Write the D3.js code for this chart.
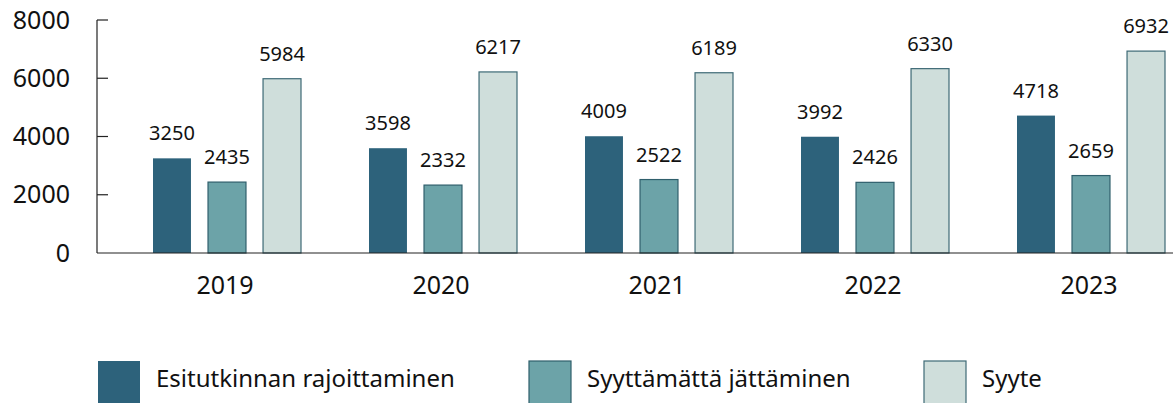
<!DOCTYPE html>
<html>
<head>
  <meta charset="utf-8">
  <script src="https://d3js.org/d3.v7.min.js"></script>
  <style>
    body { margin: 0; background: #fff; }
    text { font-family: "Noto Sans", sans-serif; fill: #111; }
  </style>
</head>
<body>
<svg id="chart"></svg>
<script>
// data
var years = ["2019", "2020", "2021", "2022", "2023"];
var seriesNames = ["Esitutkinnan rajoittaminen", "Syyttämättä jättäminen", "Syyte"];
var rajoittaminen = [3250, 3598, 4009, 3992, 4718];
var jattaminen = [2435, 2332, 2522, 2426, 2659];
var syyte = [5984, 6217, 6189, 6330, 6932];
var yTicks = [0, 2000, 4000, 6000, 8000];

var colors = ["#2d627b", "#6ca3a8", "#cfdedb"];
var strokes = ["#2d627b", "#2f5f6c", "#3e6a76"];

var w = 1173, h = 403;
var axisX = 97, y0 = 253, yTop = 20;

var svg = d3.select("#chart").attr("width", w).attr("height", h);

var values = [rajoittaminen, jattaminen, syyte];
var data = years.map(function (yr, i) {
  return { year: yr, vals: values.map(function (s) { return s[i]; }) };
});

var x = d3.scaleBand().domain(years).range([119, 1199]).padding(0);
var inner = d3.scaleBand().domain([0, 1, 2]).range([0, 148]).paddingInner(0.31).paddingOuter(0);
var y = d3.scaleLinear().domain([0, 8000]).range([y0, yTop]);

// y axis
var yAxis = d3.axisLeft(y).tickValues(yTicks).tickSize(0).tickPadding(27).tickFormat(d3.format("d"));
var gy = svg.append("g").attr("transform", "translate(" + axisX + ",0)").call(yAxis);
gy.select(".domain").remove();
gy.selectAll("text").style("font-size", "25px").attr("fill", "#111");

svg.append("line")
  .attr("x1", axisX).attr("x2", axisX)
  .attr("y1", yTop).attr("y2", y0)
  .attr("stroke", "#222").attr("stroke-width", 1.2);
svg.selectAll("line.tk").data(yTicks.slice(1)).enter().append("line")
  .attr("class", "tk")
  .attr("x1", axisX).attr("x2", axisX + 11)
  .attr("y1", function (d) { return y(d); }).attr("y2", function (d) { return y(d); })
  .attr("stroke", "#222").attr("stroke-width", 1.2);

// bars
var groups = svg.selectAll("g.year").data(data).enter().append("g")
  .attr("class", "year")
  .attr("transform", function (d) { return "translate(" + (x(d.year) + (x.bandwidth() - 148) / 2) + ",0)"; });

groups.selectAll("rect").data(function (d) { return d.vals; }).enter().append("rect")
  .attr("x", function (d, i) { return inner(i); })
  .attr("y", function (d) { return y(d); })
  .attr("width", inner.bandwidth())
  .attr("height", function (d) { return y0 - y(d); })
  .attr("fill", function (d, i) { return colors[i]; })
  .attr("stroke", function (d, i) { return i === 0 ? "none" : strokes[i]; })
  .attr("stroke-width", 1.2);

groups.selectAll("text.val").data(function (d) { return d.vals; }).enter().append("text")
  .attr("class", "val")
  .attr("x", function (d, i) { return inner(i) + inner.bandwidth() / 2; })
  .attr("y", function (d) { return y(d) - 18; })
  .attr("text-anchor", "middle")
  .style("font-size", "20px")
  .text(function (d) { return d; });

// x axis line
svg.append("line")
  .attr("x1", axisX).attr("x2", w)
  .attr("y1", y0).attr("y2", y0)
  .attr("stroke", "#222").attr("stroke-width", 1.2);

svg.selectAll("text.yr").data(years).enter().append("text")
  .attr("class", "yr")
  .attr("x", function (d) { return x(d) + x.bandwidth() / 2 - 2; })
  .attr("y", 294)
  .attr("text-anchor", "middle")
  .style("font-size", "25px")
  .text(function (d) { return d; });

// legend
var legendX = [98, 529, 924];
var lg = svg.selectAll("g.legend").data(seriesNames).enter().append("g")
  .attr("class", "legend")
  .attr("transform", function (d, i) { return "translate(" + legendX[i] + ",361)"; });
lg.append("rect")
  .attr("width", 42).attr("height", 44)
  .attr("fill", function (d, i) { return colors[i]; })
  .attr("stroke", function (d, i) { return i === 0 ? "none" : strokes[i]; })
  .attr("stroke-width", 1.2);
lg.append("text")
  .attr("x", 58).attr("y", 26)
  .style("font-size", "24px")
  .text(function (d) { return d; });
</script>
</body>
</html>
